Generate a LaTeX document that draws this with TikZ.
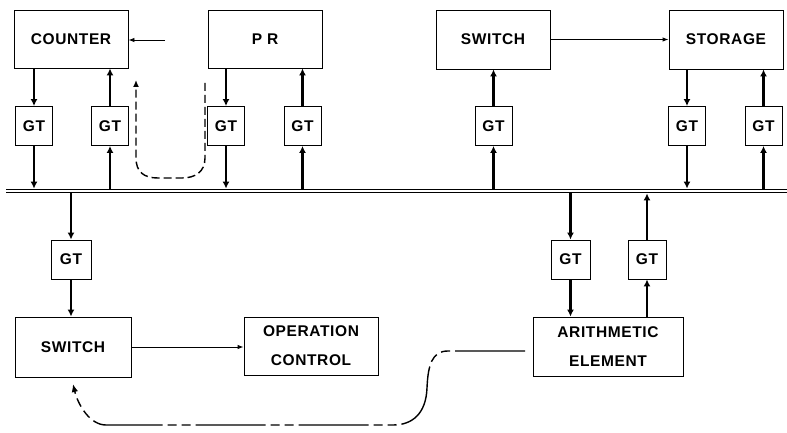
\documentclass[tikz,border=0pt]{standalone}
\usepackage{fontspec}
\setmainfont{Liberation Sans}[LetterSpace=4]
\usetikzlibrary{arrows.meta}
\begin{document}
\begin{tikzpicture}[x=1pt,y=-1pt,
  box/.style={draw, line width=0.9pt, inner sep=0pt, align=center,
    font=\fontsize{15.5}{29}\selectfont\bfseries},
  gt/.style={box, minimum width=37pt, minimum height=39pt},
  big/.style={box, minimum width=114pt, minimum height=58pt},
  thick arrow/.style={line width=2.9pt, -{Latex[length=7pt,width=7pt]}},
  thin arrow/.style={line width=0.9pt, -{Latex[length=6pt,width=4.5pt]}},
  bus/.style={draw, line width=1.2pt, double=white, double distance=2.4pt},
  udash/.style={line width=1.4pt, dash pattern=on 8pt off 4pt, -{Latex[length=7pt,width=6pt]}},
  ddash/.style={line width=1.4pt, dash pattern=on 70pt off 5pt on 9pt off 5pt on 9pt off 5pt, -{Latex[length=8pt,width=6.5pt]}}
]
\useasboundingbox (0,0) rectangle (787,433);

% top boxes
\node[big] (counter) at (71,39) {COUNTER};
\node[big] (pr) at (265,39) {P R};
\node[big, minimum height=59pt] (switchT) at (493,39.5) {SWITCH};
\node[big, minimum height=59pt] (storage) at (726,39.5) {STORAGE};

% top gates
\node[gt] (gt1) at (34,126) {GT};
\node[gt] (gt2) at (110,126) {GT};
\node[gt] (gt3) at (226,126) {GT};
\node[gt] (gt4) at (302.5,126) {GT};
\node[gt] (gt5) at (493.5,126) {GT};
\node[gt] (gt6) at (687,126) {GT};
\node[gt] (gt7) at (763.5,126) {GT};

% bus
\coordinate (busL) at (6,191);
\coordinate (busR) at (787,191);
\coordinate (busT) at (0,188.6);
\coordinate (busB) at (0,193.4);
\path[bus] (busL) -- (busR);

% bottom
\node[gt, minimum width=40pt] (gtb1) at (71,259.5) {GT};
\node[gt, minimum width=39pt] (gtb2) at (570.5,259.5) {GT};
\node[gt, minimum width=38pt] (gtb3) at (647,259.5) {GT};
\node[box, minimum width=116pt, minimum height=60pt] (switchB) at (73,347) {SWITCH};
\node[box, minimum width=134pt, minimum height=58pt] (opctl) at (311,346) {OPERATION\\CONTROL};
\node[box, minimum width=150pt, minimum height=59pt] (arith) at (608,346.5) {ARITHMETIC\\ELEMENT};

% top-row connectors
\draw[thick arrow] (gt1.north |- counter.south) -- (gt1.north);
\draw[thick arrow] (gt1.south) -- (gt1.south |- busT);
\draw[thick arrow] (gt2.south |- busT) -- (gt2.south);
\draw[thick arrow] (gt2.north) -- (gt2.north |- counter.south);
\draw[thick arrow] (gt3.north |- pr.south) -- (gt3.north);
\draw[thick arrow] (gt3.south) -- (gt3.south |- busT);
\draw[thick arrow] (gt4.south |- busT) -- (gt4.south);
\draw[thick arrow] (gt4.north) -- (gt4.north |- pr.south);
\draw[thick arrow] (gt5.south |- busT) -- (gt5.south);
\draw[thick arrow] (gt5.north) -- (gt5.north |- switchT.south);
\draw[thick arrow] (gt6.north |- storage.south) -- (gt6.north);
\draw[thick arrow] (gt6.south) -- (gt6.south |- busT);
\draw[thick arrow] (gt7.south |- busT) -- (gt7.south);
\draw[thick arrow] (gt7.north) -- (gt7.north |- storage.south);

% bottom connectors
\draw[thick arrow] (gtb1.north |- busB) -- (gtb1.north);
\draw[thick arrow] (gtb1.south) -- (gtb1.south |- switchB.north);
\draw[thick arrow] (gtb2.north |- busB) -- (gtb2.north);
\draw[thick arrow] (gtb2.south) -- (gtb2.south |- arith.north);
\draw[thick arrow] (gtb3.south |- arith.north) -- (gtb3.south);
\draw[thick arrow] (gtb3.north) -- (gtb3.north |- busB);

% thin arrows
\coordinate (cin) at (165,40);
\draw[thin arrow] (cin) -- (counter.east |- cin);
\draw[thin arrow] (switchT.east) -- (storage.west);
\draw[thin arrow] (switchB.east) -- (opctl.west |- switchB.east);

% dashed U
\coordinate (u0) at (205,83);
\coordinate (u1) at (136,80);
\draw[udash] (u0) -- (205,158) .. controls (205,172) and (195,178) .. (182,178)
  -- (158,178) .. controls (144,178) and (136,172) .. (136,158) -- (u1);

% dash-dot return
\coordinate (d0) at (525,351);
\coordinate (d1) at (73,384);
\draw[ddash] (d0) -- (448,351) .. controls (432,351) and (428,365) .. (427,388)
  .. controls (426,414) and (412,425) .. (393,425) -- (106,425)
  .. controls (90,425) and (78,405) .. (d1);
\end{tikzpicture}
\end{document}
